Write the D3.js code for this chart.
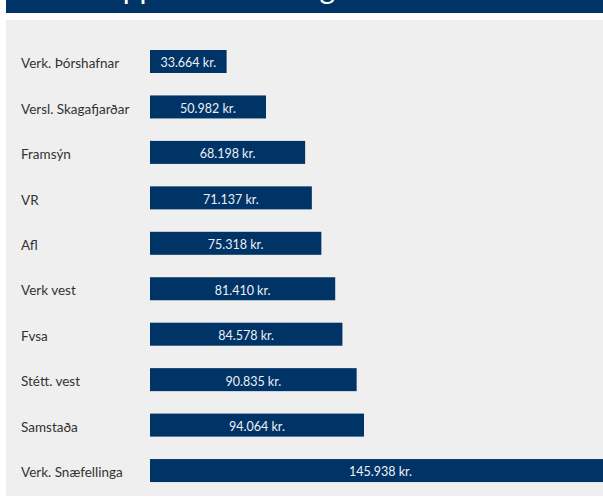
<!DOCTYPE html>
<html>
<head>
<meta charset="utf-8">
<script src="https://cdn.jsdelivr.net/npm/d3@7"></script>
<style>
body { margin: 0; background: #fff; overflow: hidden; }
svg { display: block; font-family: Lato, "Open Sans", sans-serif; }
</style>
</head>
<body>
<svg width="603" height="499"></svg>
<script>
var title = 'Orlofsuppbót eftir félögum';
var felog = ['Verk. Þórshafnar', 'Versl. Skagafjarðar', 'Framsýn', 'VR', 'Afl',
	'Verk vest', 'Fvsa', 'Stétt. vest', 'Samstaða', 'Verk. Snæfellinga'];
var upphaed = [33664, 50982, 68198, 71137, 75318, 81410, 84578, 90835, 94064, 145938];

var k_w = 603, k_h = 499;
var k_left = 150;   // where the bars start
var k_top = 50;     // top of first bar
var k_step = 45.45; // row spacing
var k_bh = 23;      // bar height

var svg = d3.select('svg');

// banner (title mostly off the top)
svg.append('rect')
	.attr('x', 6).attr('y', 0)
	.attr('width', k_w - 6).attr('height', 13)
	.attr('fill', '#003366');
svg.append('text')
	.attr('x', 24).attr('y', -1)
	.attr('fill', '#fff')
	.style('font-size', '30px')
	.text(title);

// gray panel
svg.append('rect')
	.attr('x', 6).attr('y', 20)
	.attr('width', k_w - 6).attr('height', 476)
	.attr('fill', '#efefef');

// last bar runs off the panel, so the scale has a break after 100.000
var x = d3.scaleLinear()
	.domain([0, 100000, 145938])
	.range([0, 227.5, 461]);

var y = d3.scalePoint()
	.domain(felog)
	.range([k_top, k_top + k_step * (felog.length - 1)]);

var fmt = d3.formatLocale({decimal: ',', thousands: '.', grouping: [3], currency: ['', ' kr.']}).format(',d');

var rows = svg.selectAll('g.row')
	.data(felog)
	.enter()
	.append('g')
	.attr('class', 'row')
	.attr('transform', function(d) {return 'translate(0,' + y(d) + ')';});

rows.append('text')
	.attr('x', 21)
	.attr('y', k_bh / 2 + 2)
	.attr('dy', '0.35em')
	.attr('fill', '#333')
	.style('font-size', '13.5px')
	.text(function(d) {return d;});

rows.append('rect')
	.attr('x', k_left)
	.attr('y', 0)
	.attr('width', function(d, i) {return x(upphaed[i]);})
	.attr('height', k_bh)
	.attr('fill', '#003366');

rows.append('text')
	.attr('x', function(d, i) {return k_left + x(upphaed[i]) / 2;})
	.attr('y', k_bh / 2 + 1.5)
	.attr('dy', '0.35em')
	.attr('text-anchor', 'middle')
	.attr('fill', '#eef0f4')
	.style('font-size', '12.5px')
	.text(function(d, i) {return fmt(upphaed[i]) + ' kr.';});
</script>
</body>
</html>
